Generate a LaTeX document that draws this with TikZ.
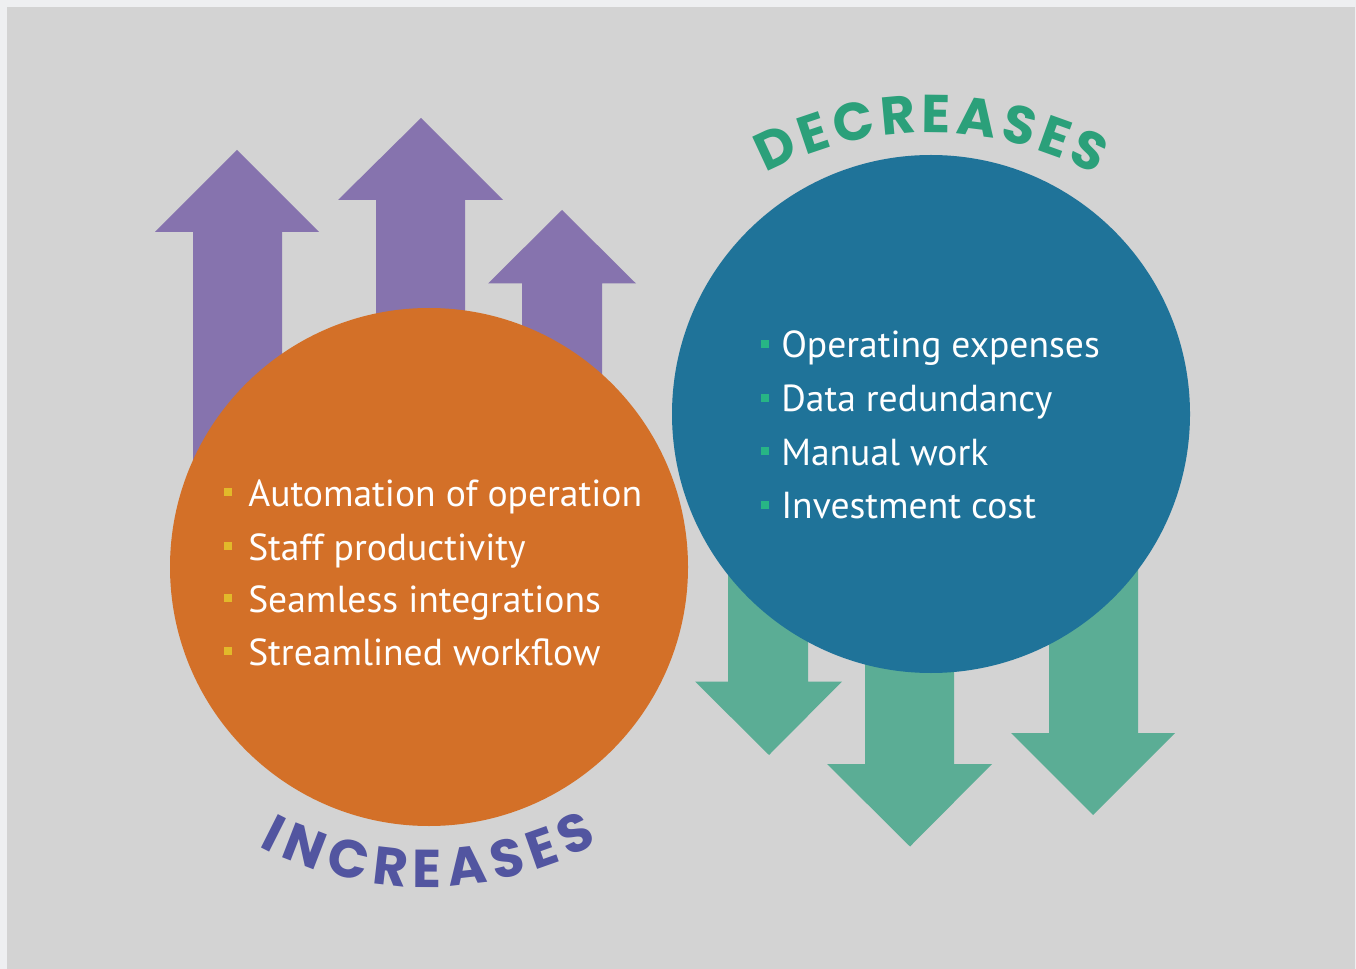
\documentclass[tikz,border=0pt]{standalone}
\usepackage{fontspec}
\setmainfont{PT Sans}
\newfontfamily\headfont{Poppins}
\usetikzlibrary{decorations.text}
\definecolor{pagebg}{HTML}{EEEFF1}
\definecolor{panelbg}{HTML}{D3D3D3}
\definecolor{uparrow}{HTML}{8673AE}
\definecolor{downarrow}{HTML}{5BAD95}
\definecolor{orangec}{HTML}{D37028}
\definecolor{bluec}{HTML}{1F7399}
\definecolor{decgreen}{HTML}{2BA07A}
\definecolor{incblue}{HTML}{5255A0}
\definecolor{ybullet}{HTML}{E2B92A}
\definecolor{gbullet}{HTML}{27B585}
\tikzset{
  uparr/.style={fill=uparrow},
  downarr/.style={fill=downarrow},
  bigcircle/.style={circle, minimum size=388.5pt, inner sep=0pt, outer sep=0pt},
  itemtext/.style={anchor=base west, text=white, inner sep=0pt, font=\fontsize{28.2}{28.2}\selectfont},
  bulletbox/.style={rectangle, minimum size=6pt, inner sep=0pt, outer sep=0pt},
}
\begin{document}
\begin{tikzpicture}[x=0.75pt,y=-0.75pt]
\fill[pagebg] (0,0) rectangle (1356,969);
\fill[panelbg] (7,7) rectangle (1355,969);
\useasboundingbox (0,0) rectangle (1356,969);
% up arrows
\fill[uparr] (193,650) -- (193,232) -- (155,232) -- (237,150) -- (319,232) -- (282,232) -- (282,650) -- cycle;
\fill[uparr] (376,600) -- (376,200) -- (338,200) -- (421,118) -- (503,200) -- (465,200) -- (465,600) -- cycle;
\fill[uparr] (522,600) -- (522,283.5) -- (488,283.5) -- (562,210) -- (636,283.5) -- (602,283.5) -- (602,600) -- cycle;
% down arrows
\fill[downarr] (728,500) -- (728,681.5) -- (695,681.5) -- (769,755) -- (842,681.5) -- (808,681.5) -- (808,500) -- cycle;
\fill[downarr] (865,500) -- (865,764) -- (827,764) -- (910,846.5) -- (992,764) -- (954,764) -- (954,500) -- cycle;
\fill[downarr] (1049,500) -- (1049,733) -- (1011,733) -- (1093,815) -- (1175,733) -- (1138,733) -- (1138,500) -- cycle;
% circles
\node[bigcircle, fill=orangec] (inc) at (429,567) {};
\node[bigcircle, fill=bluec] (dec) at (931,414) {};
% increase items
\node[bulletbox, fill=ybullet] (ib1) at (228,492.5) {};
\node[bulletbox, fill=ybullet] (ib2) at (228,545.5) {};
\node[bulletbox, fill=ybullet] (ib3) at (228,597.5) {};
\node[bulletbox, fill=ybullet] (ib4) at (228,650.5) {};
\node[itemtext] (i1) at (248,507) {Automation of operation};
\node[itemtext] (i2) at (248,560) {Staff productivity};
\node[itemtext] (i3) at (248,612) {Seamless integrations};
\node[itemtext] (i4) at (248,665) {Streamlined workflow};
% decrease items
\node[bulletbox, fill=gbullet] (db1) at (764.5,344.5) {};
\node[bulletbox, fill=gbullet] (db2) at (764.5,398) {};
\node[bulletbox, fill=gbullet] (db3) at (764.5,451.5) {};
\node[bulletbox, fill=gbullet] (db4) at (764.5,504.5) {};
\node[itemtext] (d1) at (781,358) {Operating expenses};
\node[itemtext] (d2) at (781,412) {Data redundancy};
\node[itemtext] (d3) at (781,465) {Manual work};
\node[itemtext] (d4) at (781,518) {Investment cost};
% curved titles
\path[decorate, decoration={text along path, text align=center, text color=decgreen,
  text={|\headfont\bfseries\fontsize{40}{40}\selectfont\kern3.6pt|DECREASES}}]
  (929,483) ++(-150:350) arc[start angle=-150, end angle=-30, radius=350];
\path[decorate, decoration={text along path, text align=center, text color=incblue,
  text={|\headfont\bfseries\fontsize{40}{40}\selectfont\kern5.5pt|INCREASES}}]
  (425,527) ++(150:360) arc[start angle=150, end angle=30, radius=360];
\end{tikzpicture}
\end{document}
